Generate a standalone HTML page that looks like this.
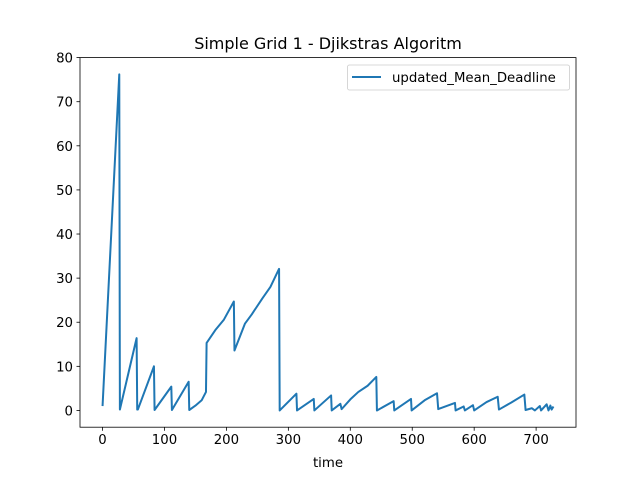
<!DOCTYPE html>
<html><head><meta charset="utf-8"><style>body{margin:0;background:#fff}svg{display:block;font-family:"DejaVu Sans","Liberation Sans",sans-serif}</style></head>
<body>
<svg id="chart" width="640" height="480" viewBox="0 0 640 480" xmlns="http://www.w3.org/2000/svg">
<rect width="640" height="480" fill="#fff"/>
<text x="328" y="49" text-anchor="middle" font-size="16">Simple Grid 1 - Djikstras Algoritm</text>
<polyline id="series" fill="none" stroke="#1f77b4" stroke-width="2" stroke-linejoin="round"/>
<rect x="80" y="57.6" width="496" height="369.6" fill="none" stroke="#000" stroke-width="0.8"/>
<g id="ticks"></g>
<text x="328" y="467" text-anchor="middle" font-size="13.3">time</text>
<g>
<rect x="347.5" y="65" width="222" height="25" rx="2" fill="#fff" stroke="#ccc" stroke-width="0.8"/>
<line x1="352" y1="77" x2="381" y2="77" stroke="#1f77b4" stroke-width="2"/>
<text x="392" y="82" font-size="13.3">updated_Mean_Deadline</text>
</g>
</svg>
<script>
const times = [0,27,28,55,56,57,83,84,111,112,139,140,150,160,167,168,182,196,212,213,230,241,258,271,285,286,313,314,341,342,369,370,384,386,400,413,428,442,443,470,471,498,499,520,540,542,569,570,583,585,598,600,620,638,640,660,681,683,693,698,706,708,717,720,723,725,728];
const values = [1,76.2,0.2,16.4,0.2,0.2,10,0.1,5.4,0.1,6.5,0.1,1.1,2.3,4.2,15.3,18.2,20.6,24.7,13.6,19.7,21.8,25.4,28,32.1,0,3.8,0,2.6,0,3.4,0,1.5,0.3,2.5,4.2,5.6,7.6,0,2.1,0,2.6,0,2.3,3.9,0.3,1.7,0,0.9,0,1.2,0,1.9,3.1,0.2,1.8,3.6,0.1,0.5,0,1.0,0,1.4,0,1.1,0.2,0.9];
const xTicks = [0,100,200,300,400,500,600,700];
const yTicks = [0,10,20,30,40,50,60,70,80];
const X0=80,X1=576,Y0=427.2,Y1=57.6;
const xmin=-36.4,xmax=764.4,ymin=-3.8,ymax=80;
const sx=v=>X0+(v-xmin)/(xmax-xmin)*(X1-X0);
const sy=v=>Y0-(v-ymin)/(ymax-ymin)*(Y0-Y1);
document.getElementById('series').setAttribute('points',times.map((t,i)=>sx(t).toFixed(2)+','+sy(values[i]).toFixed(2)).join(' '));
const g=document.getElementById('ticks');const NS='http://www.w3.org/2000/svg';
xTicks.forEach(v=>{const l=document.createElementNS(NS,'line');


l.setAttribute('x1',sx(v));l.setAttribute('x2',sx(v));l.setAttribute('y1',Y0);l.setAttribute('y2',Y0+3.5);l.setAttribute('stroke','#000');l.setAttribute('stroke-width','0.8');g.appendChild(l);
const t=document.createElementNS(NS,'text');


t.setAttribute('x',sx(v));t.setAttribute('y',Y0+17);t.setAttribute('text-anchor','middle');t.setAttribute('font-size','13.3');t.textContent=v;g.appendChild(t);});
yTicks.forEach(v=>{const l=document.createElementNS(NS,'line');


l.setAttribute('x1',X0-3.5);l.setAttribute('x2',X0);l.setAttribute('y1',sy(v));l.setAttribute('y2',sy(v));l.setAttribute('stroke','#000');l.setAttribute('stroke-width','0.8');g.appendChild(l);
const t=document.createElementNS(NS,'text');


t.setAttribute('x',X0-7);t.setAttribute('y',sy(v)+5);t.setAttribute('text-anchor','end');t.setAttribute('font-size','13.3');t.textContent=v;g.appendChild(t);});
</script>
</body></html>
